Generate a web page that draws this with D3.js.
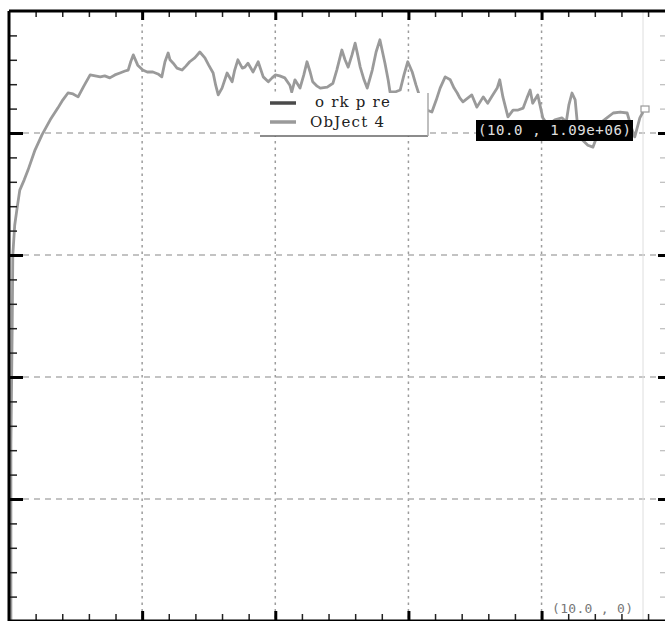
<!DOCTYPE html>
<html>
<head>
<meta charset="utf-8">
<script src="https://cdn.jsdelivr.net/npm/d3@7"></script>
<style>
  body { margin: 0; background: #fff; }
  svg { display: block; }
</style>
</head>
<body>
<div id="chart"></div>
<script>
// series "ObJect 4" : x (seconds-ish) and value
const xValues = [0.03, 0.03, 0.05, 0.06, 0.09, 0.13, 0.17, 0.24, 0.30, 0.41, 0.52, 0.65, 0.77, 0.85, 0.93, 1.01, 1.09, 1.18, 1.28, 1.36,
    1.44, 1.51, 1.59, 1.67, 1.75, 1.83, 1.88, 1.92, 1.96, 2.03, 2.11, 2.18, 2.27, 2.35, 2.41, 2.46, 2.51, 2.54, 2.59, 2.65,
    2.73, 2.79, 2.85, 2.93, 3.01, 3.09, 3.15, 3.22, 3.26, 3.30, 3.36, 3.44, 3.52, 3.56, 3.61, 3.68, 3.72, 3.77, 3.85, 3.93,
    4.01, 4.09, 4.15, 4.20, 4.27, 4.35, 4.43, 4.46, 4.51, 4.59, 4.65, 4.70, 4.75, 4.79, 4.86, 4.91, 5.02, 5.11, 5.17, 5.25,
    5.30, 5.35, 5.41, 5.46, 5.50, 5.54, 5.60, 5.65, 5.73, 5.79, 5.85, 5.93, 5.98, 6.01, 6.09, 6.17, 6.23, 6.29, 6.36, 6.42,
    6.48, 6.55, 6.59, 6.67, 6.74, 6.80, 6.88, 6.96, 7.02, 7.07, 7.11, 7.16, 7.24, 7.30, 7.38, 7.48, 7.55, 7.63, 7.70, 7.74,
    7.79, 7.87, 7.95, 8.03, 8.11, 8.17, 8.22, 8.26, 8.34, 8.42, 8.50, 8.61, 8.72, 8.79, 8.83, 8.88, 8.93, 8.97, 9.04, 9.13,
    9.21, 9.27, 9.35, 9.43, 9.53, 9.64, 9.75, 9.83, 9.87, 9.92, 9.95, 10.0]
const yValues = [0, 0.361e6, 0.596e6, 0.750e6, 0.811e6, 0.848e6, 0.883e6, 0.904e6, 0.924e6, 0.965e6, 0.996e6, 1.027e6, 1.051e6, 1.068e6, 1.082e6, 1.080e6, 1.074e6, 1.096e6, 1.119e6, 1.117e6,
    1.115e6, 1.117e6, 1.113e6, 1.119e6, 1.123e6, 1.127e6, 1.129e6, 1.146e6, 1.160e6, 1.139e6, 1.129e6, 1.125e6, 1.125e6, 1.121e6, 1.115e6, 1.146e6, 1.164e6, 1.150e6, 1.143e6, 1.133e6,
    1.129e6, 1.137e6, 1.146e6, 1.154e6, 1.166e6, 1.154e6, 1.139e6, 1.123e6, 1.098e6, 1.078e6, 1.092e6, 1.123e6, 1.105e6, 1.129e6, 1.150e6, 1.133e6, 1.135e6, 1.143e6, 1.125e6, 1.146e6,
    1.115e6, 1.105e6, 1.113e6, 1.119e6, 1.117e6, 1.113e6, 1.098e6, 1.084e6, 1.109e6, 1.092e6, 1.119e6, 1.146e6, 1.125e6, 1.105e6, 1.096e6, 1.092e6, 1.094e6, 1.102e6, 1.129e6, 1.170e6,
    1.150e6, 1.135e6, 1.160e6, 1.184e6, 1.160e6, 1.135e6, 1.109e6, 1.092e6, 1.129e6, 1.166e6, 1.191e6, 1.143e6, 1.109e6, 1.084e6, 1.084e6, 1.088e6, 1.119e6, 1.146e6, 1.125e6, 1.098e6,
    1.074e6, 1.057e6, 1.047e6, 1.043e6, 1.068e6, 1.092e6, 1.115e6, 1.109e6, 1.092e6, 1.082e6, 1.072e6, 1.064e6, 1.072e6, 1.078e6, 1.053e6, 1.074e6, 1.061e6, 1.078e6, 1.092e6, 1.109e6,
    1.074e6, 1.033e6, 1.047e6, 1.047e6, 1.051e6, 1.072e6, 1.088e6, 1.061e6, 1.078e6, 1.031e6, 1.016e6, 1.027e6, 1.031e6, 1.023e6, 1.057e6, 1.082e6, 1.068e6, 1.012e6, 0.986e6, 0.975e6,
    0.971e6, 0.992e6, 1.023e6, 1.031e6, 1.041e6, 1.043e6, 1.041e6, 1.006e6, 0.992e6, 1.016e6, 1.031e6, 1.043e6]

const legendLabels = ["o rk p re", "ObJect 4"]
const legendColors = ["#4a4a4a", "#9a9a9a"]

const xMajorTicks = [0, 2.1, 4.2, 6.3, 8.4]
const yMajorTicks = [0, 0.25e6, 0.5e6, 0.75e6, 1.0e6, 1.25e6]

const cursorLabel = "(10.0 , 1.09e+06)"
const originLabel = "(10.0 , 0)"

const width = 665, height = 621
const margin = { left: 9, top: 11, bottom: 621 }

const data = xValues.map((x, i) => ({ x: x, y: yValues[i] }))

const xScale = d3.scaleLinear().domain([0, 10]).range([margin.left, 643])
const yScale = d3.scaleLinear().domain([0, 1.25e6]).range([margin.bottom, margin.top])

const xMinorTicks = d3.range(0, 10.6, 0.42).filter(t => !xMajorTicks.some(m => Math.abs(m - t) < 0.01))
const yMinorTicks = d3.range(0, 1.26e6, 0.05e6).filter(t => !yMajorTicks.some(m => Math.abs(m - t) < 1))

const svg = d3.select("#chart").append("svg")
    .attr("width", width)
    .attr("height", height)

svg.append("rect").attr("width", width).attr("height", height).attr("fill", "#fff")

// grid
svg.append("g").selectAll("line")
    .data(xMajorTicks.slice(1))
    .join("line")
    .attr("x1", d => xScale(d)).attr("x2", d => xScale(d))
    .attr("y1", margin.top).attr("y2", margin.bottom)
    .attr("stroke", "#9c9c9c").attr("stroke-width", 1.5)
    .attr("stroke-dasharray", "2.5,4")

svg.append("g").selectAll("line")
    .data(yMajorTicks.slice(1, -1))
    .join("line")
    .attr("x1", margin.left + 14).attr("x2", width)
    .attr("y1", d => yScale(d)).attr("y2", d => yScale(d))
    .attr("stroke", "#b0b0b0").attr("stroke-width", 1.3)
    .attr("stroke-dasharray", "6,5")

// faint right line
svg.append("line")
    .attr("x1", xScale(10)).attr("x2", xScale(10))
    .attr("y1", margin.top).attr("y2", margin.bottom)
    .attr("stroke", "#dedede").attr("stroke-width", 1)

// data line
const line = d3.line().x(d => xScale(d.x)).y(d => yScale(d.y))
svg.append("path")
    .datum(data)
    .attr("d", line)
    .attr("fill", "none")
    .attr("stroke", legendColors[1])
    .attr("stroke-width", 2.8)
    .attr("stroke-linejoin", "round")

// end marker
svg.append("rect")
    .attr("x", xScale(10) - 2).attr("y", yScale(yValues[yValues.length - 1]) - 6)
    .attr("width", 8).attr("height", 6)
    .attr("fill", "#fff").attr("stroke", "#999").attr("stroke-width", 1.2)

// axes
const drawTicks = (axisFn, pos, ticks, size, color, widthPx) => {
    const g = svg.append("g")
        .attr("transform", pos)
        .call(axisFn.tickValues(ticks).tickSize(size).tickFormat(""))
    g.select(".domain").remove()
    g.selectAll(".tick line").attr("stroke", color).attr("stroke-width", widthPx)
}

// top (ticks down)
drawTicks(d3.axisBottom(xScale), `translate(0,${margin.top})`, xMinorTicks, 6, "#222", 1.5)
drawTicks(d3.axisBottom(xScale), `translate(0,${margin.top})`, xMajorTicks.slice(1), 9, "#000", 3)
// bottom (ticks up)
drawTicks(d3.axisTop(xScale), `translate(0,${margin.bottom - 1})`, xMinorTicks, 6, "#222", 1.5)
drawTicks(d3.axisTop(xScale), `translate(0,${margin.bottom - 1})`, xMajorTicks.slice(1), 9, "#000", 3)
// left (ticks right)
drawTicks(d3.axisRight(yScale), `translate(${margin.left},0)`, yMinorTicks, 8, "#222", 1.5)
drawTicks(d3.axisRight(yScale), `translate(${margin.left},0)`, yMajorTicks.slice(1, -1), 14, "#000", 3)
// right (ticks left, faint minors)
drawTicks(d3.axisLeft(yScale), `translate(${width},0)`, yMinorTicks, 5, "#bbb", 1.2)
drawTicks(d3.axisLeft(yScale), `translate(${width},0)`, yMajorTicks.slice(1, -1), 7, "#000", 3)

// frame lines
svg.append("line").attr("x1", margin.left).attr("x2", width).attr("y1", margin.top).attr("y2", margin.top)
    .attr("stroke", "#000").attr("stroke-width", 3)
svg.append("line").attr("x1", margin.left).attr("x2", margin.left).attr("y1", margin.top).attr("y2", margin.bottom)
    .attr("stroke", "#000").attr("stroke-width", 3)
svg.append("line").attr("x1", margin.left).attr("x2", width).attr("y1", margin.bottom - 0.5).attr("y2", margin.bottom - 0.5)
    .attr("stroke", "#000").attr("stroke-width", 2)

// legend
const legend = svg.append("g").attr("transform", "translate(262,93)")
legend.append("rect")
    .attr("width", 166).attr("height", 43)
    .attr("fill", "#fff")
legend.append("line")
    .attr("x1", -2).attr("x2", 166).attr("y1", 43).attr("y2", 43)
    .attr("stroke", "#666").attr("stroke-width", 1.5)
legend.append("line")
    .attr("x1", 166).attr("x2", 166).attr("y1", 0).attr("y2", 43)
    .attr("stroke", "#aaa").attr("stroke-width", 1.5)
legendLabels.forEach((label, i) => {
    legend.append("line")
        .attr("x1", 8).attr("x2", 34)
        .attr("y1", 10 + i * 19).attr("y2", 10 + i * 19)
        .attr("stroke", legendColors[i]).attr("stroke-width", 3.5)
    legend.append("text")
        .attr("x", i === 0 ? 53 : 48)
        .attr("y", 14 + i * 20)
        .attr("font-family", "DejaVu Serif, serif")
        .attr("font-size", 15)
        .attr("letter-spacing", 1.2)
        .attr("fill", "#222")
        .text(label)
})

// cursor readout
const cursor = svg.append("g").attr("transform", "translate(476,120)")
cursor.append("rect").attr("width", 157).attr("height", 21).attr("fill", "#000")
cursor.append("text")
    .attr("x", 2).attr("y", 15)
    .attr("font-family", "DejaVu Sans Mono, monospace")
    .attr("font-size", 14)
    .attr("letter-spacing", 0.6)
    .attr("fill", "#e0e0e0")
    .text(cursorLabel)

svg.append("text")
    .attr("x", 552).attr("y", 613)
    .attr("font-family", "DejaVu Sans Mono, monospace")
    .attr("font-size", 13)
    .attr("letter-spacing", 0.3)
    .attr("fill", "#777")
    .text(originLabel)
</script>
</body>
</html>
